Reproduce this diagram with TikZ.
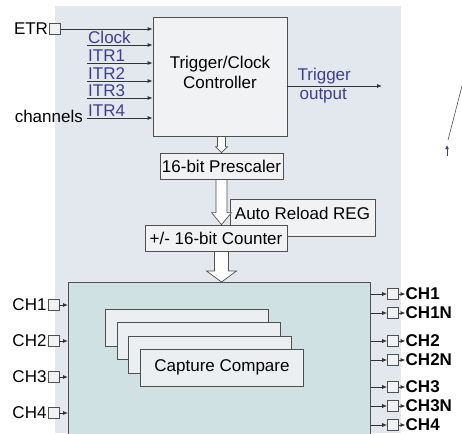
\documentclass[tikz,border=0pt]{standalone}
\usepackage{fontspec}
\setmainfont{Liberation Sans}
\usetikzlibrary{arrows.meta,calc}

\definecolor{panelbg}{RGB}{227,232,238}
\definecolor{capbg}{RGB}{207,225,226}
\definecolor{boxbg}{RGB}{241,242,244}
\definecolor{stackbg}{RGB}{236,239,241}
\definecolor{edgegray}{RGB}{80,80,80}
\definecolor{sigblue}{RGB}{62,64,140}

\newcommand{\fatarrow}[5]{%
  \filldraw[fill=white,draw=edgegray,line width=0.7pt]
    ($(#1)+(-#3,0)$) -- ($(#2)+(-#3,-#5)$) -- ($(#2)+(-#4,-#5)$) -- (#2)
    -- ($(#2)+(#4,-#5)$) -- ($(#2)+(#3,-#5)$) -- ($(#1)+(#3,0)$) -- cycle;}

\begin{document}
\begin{tikzpicture}[
  x=1pt,
  y=-1pt,
  font=\fontsize{17}{20}\selectfont,
  block/.style={
    draw=edgegray,
    fill=boxbg,
    line width=0.8pt,
    inner sep=0pt,
    align=center
  },
  port/.style={
    draw=edgegray,
    fill=boxbg,
    line width=0.6pt,
    minimum width=11pt,
    minimum height=11pt,
    inner sep=0pt
  },
  sig/.style={draw=black!80,line width=0.8pt,-{Latex[length=5pt,width=4pt]}},
  itrlabel/.style={text=sigblue,inner sep=2pt}
]
  \useasboundingbox (0,0) rectangle (462,433);
  \fill[panelbg] (55,6) rectangle (401,433);

  \node[block,minimum width=134pt,minimum height=119pt,
    label={[align=center,yshift=4.5pt]center:Trigger/Clock\\Controller}] (ctrl) at (220,76.5) {};

  \node[port] (etr) at (55,29) {};
  \node[anchor=east,inner sep=1pt] (etrlabel) at (etr.west) {ETR};
  \draw[sig] (etr) -- (etr -| ctrl.west);

  \foreach \name/\yy in {Clock/45,ITR1/63,ITR2/81,ITR3/98,ITR4/118} {
    \coordinate (in-\name) at (87,\yy);
    \draw[sig] (in-\name) -- (in-\name -| ctrl.west);
    \node[itrlabel,anchor=south west,inner sep=1pt] (lab-\name) at (in-\name) {\name};
  }
  \node[anchor=east,inner sep=1pt] (channels) at (84,116) {channels};

  \coordinate (trigend) at (382,86);
  \draw[sig] (ctrl.east |- trigend) -- (trigend);
  \node[itrlabel,anchor=south west] (trig-a) at ($(ctrl.east |- trigend)+(8,0)$) {Trigger};
  \node[itrlabel,anchor=north west] (trig-b) at ($(ctrl.east |- trigend)+(10,0)$) {output};

  \node[block,minimum width=123pt,minimum height=26pt] (presc) at (221.5,166) {16-bit Prescaler};
  \node[block,minimum width=145pt,minimum height=37pt,
    label={[yshift=4.5pt]center:Auto Reload REG}] (reg) at (302.5,217.5) {};
  \node[block,minimum width=142pt,minimum height=26pt] (cnt) at (216,238) {+/- 16-bit Counter};

  \node[draw=edgegray,fill=capbg,line width=0.8pt,minimum width=302pt,minimum height=152pt,
    anchor=north west,inner sep=0pt] (cap) at (68,282) {};

  \fatarrow{ctrl.south -| presc.north}{presc.north}{4}{6}{6}
  \fatarrow{presc.south}{presc.south |- cnt.north}{5.5}{10}{12}
  \fatarrow{presc.south |- cnt.south}{presc.south |- cap.north}{7}{15}{11}

  \foreach \i in {1,...,4}
    \node[block,fill=stackbg,minimum width=163pt,minimum height=37pt,anchor=north west]
      (cc\i) at ({105+11.7*(\i-1)},{309+13.3*(\i-1)}) {};
  \node (cctext) at (cc4.center) {Capture Compare};

  \foreach \k/\yy in {1/305,2/341,3/377,4/413} {
    \node[port] (chin\k) at (53.5,\yy) {};
    \node[anchor=east,inner sep=1pt] (chinlab\k) at (chin\k.west) {CH\k};
    \draw[sig] (chin\k) -- (chin\k -| cap.west);
  }

  \foreach \lab/\yy in {CH1/294,CH1N/313,CH2/341,CH2N/360,CH3/387,CH3N/406,CH4/425} {
    \node[port] (out\lab) at (393,\yy) {};
    \node[anchor=west,inner sep=0pt,font=\fontsize{17}{20}\selectfont\bfseries] (outlab\lab) at (405.5,\yy) {\lab};
    \draw[sig] (cap.east |- out\lab) -- (out\lab);
    \draw[sig] (out\lab) -- (outlab\lab);
  }

  \coordinate (strayA) at (462,86);
  \coordinate (strayB) at (448,140);
  \coordinate (strayC) at (447,156);
  \coordinate (strayD) at (447,145);
  \draw[edgegray,line width=0.6pt] (strayA) -- (strayB);
  \draw[sigblue,line width=0.9pt,-{Latex[length=4pt,width=4pt]}] (strayC) -- (strayD);
\end{tikzpicture}
\end{document}
